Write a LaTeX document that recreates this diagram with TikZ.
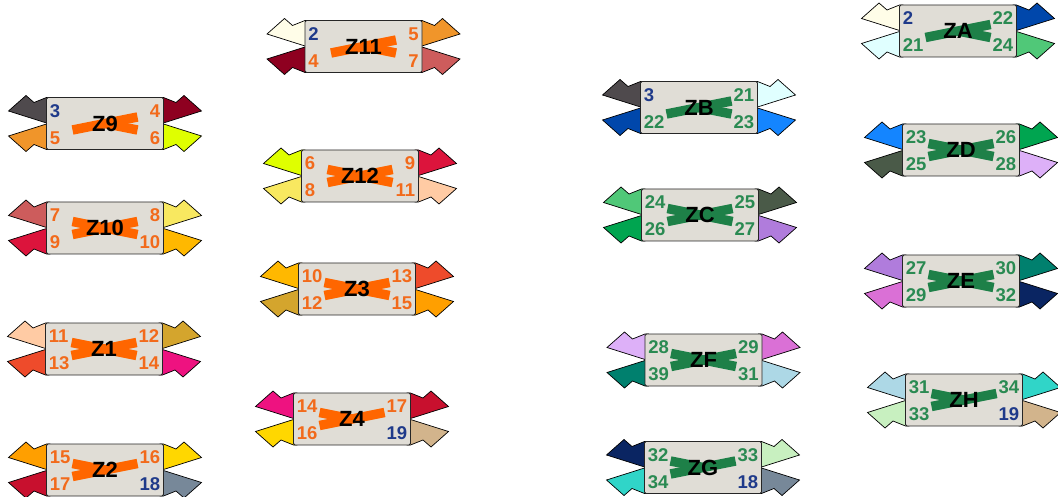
\documentclass[tikz,border=0pt]{standalone}
\usepackage{fontspec}
\setmainfont{Liberation Sans}
\definecolor{w2}{HTML}{FFFDE8}
\definecolor{w3}{HTML}{4F4A4D}
\definecolor{w4}{HTML}{8E0020}
\definecolor{w5}{HTML}{F0952A}
\definecolor{w6}{HTML}{DFFF00}
\definecolor{w7}{HTML}{CD5C5C}
\definecolor{w8}{HTML}{F8E860}
\definecolor{w9}{HTML}{DC143C}
\definecolor{w10}{HTML}{FFB800}
\definecolor{w11}{HTML}{FFCBA4}
\definecolor{w12}{HTML}{D4A52D}
\definecolor{w13}{HTML}{EE4B2B}
\definecolor{w14}{HTML}{EE1280}
\definecolor{w15}{HTML}{FF9F00}
\definecolor{w16}{HTML}{FFD700}
\definecolor{w17}{HTML}{C8102E}
\definecolor{w18}{HTML}{778899}
\definecolor{w19}{HTML}{D2B48C}
\definecolor{w21}{HTML}{E0FFFF}
\definecolor{w22}{HTML}{0047AB}
\definecolor{w23}{HTML}{1485FF}
\definecolor{w24}{HTML}{50C878}
\definecolor{w25}{HTML}{4A5A48}
\definecolor{w26}{HTML}{00A550}
\definecolor{w27}{HTML}{B07CDC}
\definecolor{w28}{HTML}{DDB0F8}
\definecolor{w29}{HTML}{DA70D6}
\definecolor{w30}{HTML}{00806E}
\definecolor{w31}{HTML}{ADD8E6}
\definecolor{w32}{HTML}{0A2562}
\definecolor{w33}{HTML}{C8F0C0}
\definecolor{w34}{HTML}{30D5C8}
\definecolor{bodyfill}{RGB}{224,221,214}
\definecolor{zor}{HTML}{FF6600}
\definecolor{zgr}{HTML}{1E8048}
\definecolor{nor}{HTML}{F26A1B}
\definecolor{ngr}{HTML}{2A8A52}
\definecolor{nbl}{HTML}{1F3A8A}
\tikzset{
  flag/.style={draw=black,line width=0.7pt,line join=miter},
  body/.style={draw=black!85,line width=0.8pt,fill=bodyfill,rounded corners=1.5pt,
    minimum width=117pt,minimum height=52pt,inner sep=0pt},
  bar/.style={line width=9.5pt,line cap=butt},
  zlab/.style={font=\fontsize{22}{22}\selectfont\bfseries,text=black,inner sep=0pt},
  num/.style={font=\fontsize{18.5}{18.5}\selectfont\bfseries,inner sep=0pt}
}
\newcommand\flagpath{(-55,-26) -- (-58.5,-26) -- (-71,-21) -- (-79,-28) -- (-96.5,-12.5) -- (-58.5,-0.5) -- (-55,-0.5) -- cycle}
\newcommand\barsfull[1]{\draw[bar,#1] (-32.5,-6.5) -- (32.5,6.5); \draw[bar,#1] (-32.5,6.5) -- (32.5,-6.5);}
\newcommand\barshalfBR[1]{\draw[bar,#1] (0,0) -- (32.5,6.5); \draw[bar,#1] (-32.5,6.5) -- (32.5,-6.5);}
\newcommand\barshalfTL[1]{\draw[bar,#1] (-32.5,-6.5) -- (0,0); \draw[bar,#1] (-32.5,6.5) -- (32.5,-6.5);}
% #1 name, #2 x, #3 y, #4 TL, #5 TR, #6 BL, #7 BR, #8 bar colour, #9 pattern
\newcommand\candy[9]{%
  \begin{scope}[shift={(#2,#3)}]
    \filldraw[flag,fill=#4] \flagpath;
    \begin{scope}[xscale=-1]\filldraw[flag,fill=#5] \flagpath;\end{scope}
    \begin{scope}[yscale=-1]\filldraw[flag,fill=#6] \flagpath;\end{scope}
    \begin{scope}[xscale=-1,yscale=-1]\filldraw[flag,fill=#7] \flagpath;\end{scope}
  \end{scope}
  \node[body] (#1) at (#2,#3) {};
  \begin{scope}[shift={(#2,#3)}]\csname bars#9\endcsname{#8}\end{scope}
  \node[zlab] (#1-t) at (#1) {#1};
}
% #1 name, then text/colour for TL, TR, BL, BR
\newcommand\nums[9]{%
  \node[num,text=#3,anchor=west] (#1-tl) at ([shift={(3.5,-12.5)}]#1.west) {#2};
  \node[num,text=#5,anchor=east] (#1-tr) at ([shift={(-3.5,-12.5)}]#1.east) {#4};
  \node[num,text=#7,anchor=west] (#1-bl) at ([shift={(3.5,14.5)}]#1.west) {#6};
  \node[num,text=#9,anchor=east] (#1-br) at ([shift={(-3.5,14.5)}]#1.east) {#8};
}
\begin{document}
\begin{tikzpicture}[x=1pt,y=-1pt]
\useasboundingbox (0,0) rectangle (1058,497);
% left group
\candy{Z9}{105}{123.5}{w3}{w4}{w5}{w6}{zor}{halfBR}
\nums{Z9}{3}{nbl}{4}{nor}{5}{nor}{6}{nor}
\candy{Z10}{105}{228}{w7}{w8}{w9}{w10}{zor}{full}
\nums{Z10}{7}{nor}{8}{nor}{9}{nor}{10}{nor}
\candy{Z1}{104}{349}{w11}{w12}{w13}{w14}{zor}{full}
\nums{Z1}{11}{nor}{12}{nor}{13}{nor}{14}{nor}
\candy{Z2}{105}{470}{w15}{w16}{w17}{w18}{zor}{halfTL}
\nums{Z2}{15}{nor}{16}{nor}{17}{nor}{18}{nbl}
\candy{Z11}{363.5}{46.5}{w2}{w5}{w4}{w7}{zor}{halfBR}
\nums{Z11}{2}{nbl}{5}{nor}{4}{nor}{7}{nor}
\candy{Z12}{360}{176}{w6}{w9}{w8}{w11}{zor}{full}
\nums{Z12}{6}{nor}{9}{nor}{8}{nor}{11}{nor}
\candy{Z3}{357}{289}{w10}{w13}{w12}{w15}{zor}{full}
\nums{Z3}{10}{nor}{13}{nor}{12}{nor}{15}{nor}
\candy{Z4}{352}{419}{w14}{w17}{w16}{w19}{zor}{halfTL}
\nums{Z4}{14}{nor}{17}{nor}{16}{nor}{19}{nbl}
% right group
\candy{ZB}{699}{107.5}{w3}{w21}{w22}{w23}{zgr}{halfBR}
\nums{ZB}{3}{nbl}{21}{ngr}{22}{ngr}{23}{ngr}
\candy{ZC}{700}{215}{w24}{w25}{w26}{w27}{zgr}{full}
\nums{ZC}{24}{ngr}{25}{ngr}{26}{ngr}{27}{ngr}
\candy{ZF}{703.5}{360}{w28}{w29}{w30}{w31}{zgr}{full}
\nums{ZF}{28}{ngr}{29}{ngr}{39}{ngr}{31}{ngr}
\candy{ZG}{703}{467.5}{w32}{w33}{w34}{w18}{zgr}{halfTL}
\nums{ZG}{32}{ngr}{33}{ngr}{34}{ngr}{18}{nbl}
\candy{ZA}{958}{31}{w2}{w22}{w21}{w24}{zgr}{halfBR}
\nums{ZA}{2}{nbl}{22}{ngr}{21}{ngr}{24}{ngr}
\candy{ZD}{961}{150}{w23}{w26}{w25}{w28}{zgr}{full}
\nums{ZD}{23}{ngr}{26}{ngr}{25}{ngr}{28}{ngr}
\candy{ZE}{961}{281}{w27}{w30}{w29}{w32}{zgr}{full}
\nums{ZE}{27}{ngr}{30}{ngr}{29}{ngr}{32}{ngr}
\candy{ZH}{964}{400}{w31}{w34}{w33}{w19}{zgr}{halfTL}
\nums{ZH}{31}{ngr}{34}{ngr}{33}{ngr}{19}{nbl}
\end{tikzpicture}
\end{document}
